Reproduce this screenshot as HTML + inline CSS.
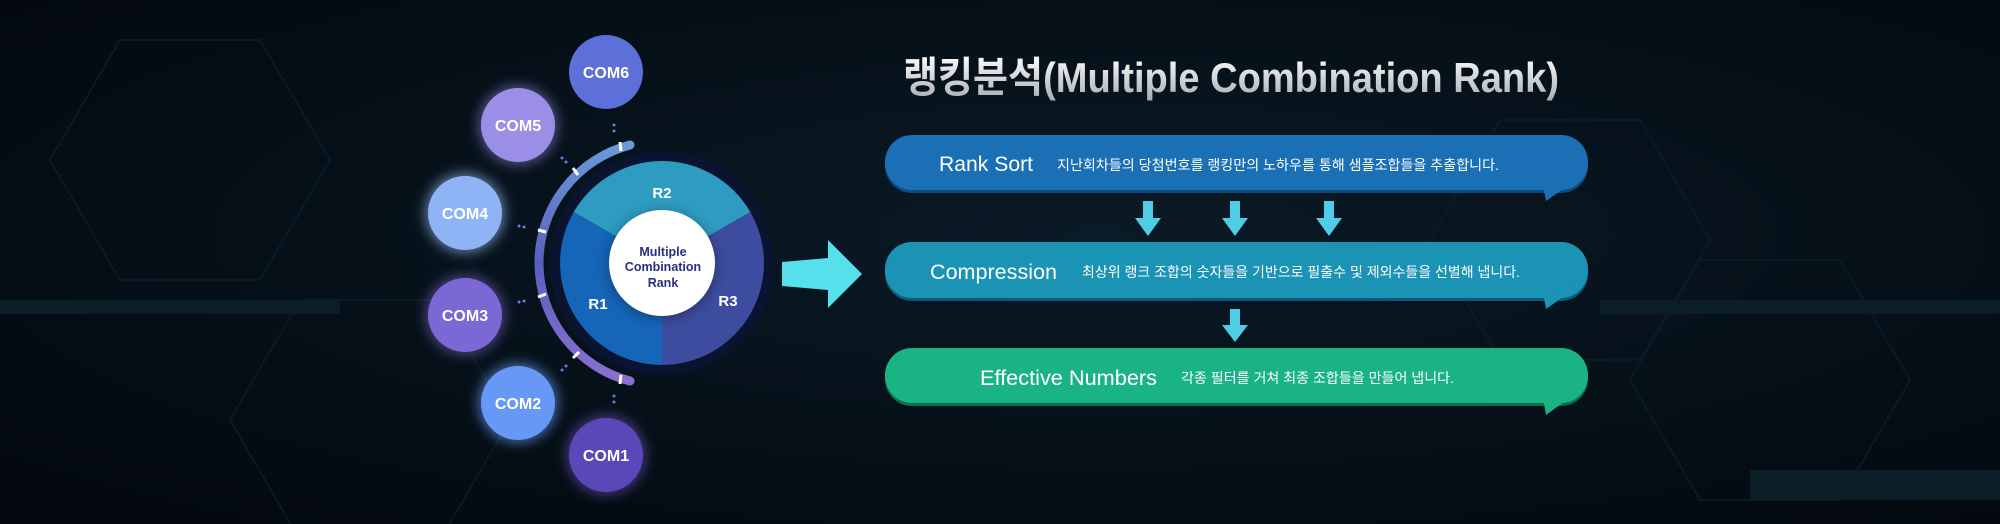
<!DOCTYPE html>
<html><head><meta charset="utf-8"><style>
html,body{margin:0;padding:0;}
body{width:2000px;height:524px;overflow:hidden;background:#040c14;font-family:"Liberation Sans","Noto Sans CJK KR",sans-serif;}
svg{position:absolute;left:0;top:0;}
</style></head><body>
<svg width="2000" height="524" viewBox="0 0 2000 524" xmlns="http://www.w3.org/2000/svg">
<defs>
<radialGradient id="bg" cx="0.55" cy="0.45" r="0.7">
<stop offset="0" stop-color="#0a1a26"/><stop offset="1" stop-color="#03090f"/>
</radialGradient>
<linearGradient id="arc" x1="0" y1="0" x2="0" y2="1">
<stop offset="0" stop-color="#6a9ad8"/><stop offset="0.5" stop-color="#5a5fbf"/><stop offset="1" stop-color="#8a6fd0"/>
</linearGradient>
<linearGradient id="tt" x1="0" y1="0" x2="0" y2="1">
<stop offset="0" stop-color="#ffffff"/><stop offset="1" stop-color="#a8adb2"/>
</linearGradient>
<filter id="glow" x="-50%" y="-50%" width="200%" height="200%"><feGaussianBlur stdDeviation="6"/></filter>
</defs>
<rect width="2000" height="524" fill="url(#bg)"/>
<g stroke="#0d1f29" stroke-width="2" fill="none" opacity="0.7">
<polygon points="120,40 260,40 330,160 260,280 120,280 50,160"/>
<polygon points="1500,120 1640,120 1710,240 1640,360 1500,360 1430,240"/>
<polygon points="1700,260 1840,260 1910,380 1840,500 1700,500 1630,380"/>
<polygon points="300,300 440,300 510,420 440,540 300,540 230,420"/>
</g>
<g fill="#0b1d26">
<rect x="0" y="300" width="340" height="14"/>
<rect x="1600" y="300" width="400" height="14"/>
<rect x="1750" y="470" width="250" height="30"/>
</g>
<!-- arc -->
<circle cx="662" cy="263" r="112" fill="#0a1430"/>
<path d="M 630 145 A 122 122 0 0 0 630 381" stroke="url(#arc)" stroke-width="9" fill="none" stroke-linecap="round"/>
<g stroke="#fff" stroke-width="3">
<line x1="620" y1="142" x2="621" y2="151"/><line x1="573" y1="168" x2="578" y2="175"/>
<line x1="538" y1="230" x2="546" y2="232"/><line x1="538" y1="297" x2="546" y2="294"/>
<line x1="573" y1="358" x2="579" y2="352"/><line x1="620" y1="384" x2="621" y2="375"/>
</g>
<!-- pie -->
<path d="M662 263 L573.7 212 A102 102 0 0 1 750.3 212 Z" fill="#2e9cc0"/>
<path d="M662 263 L750.3 212 A102 102 0 0 1 662 365 Z" fill="#3d4c9e"/>
<path d="M662 263 L662 365 A102 102 0 0 1 573.7 212 Z" fill="#1565b8"/>
<circle cx="662" cy="265" r="54" fill="#000" opacity="0.3" filter="url(#glow)"/>
<circle cx="662" cy="263" r="53" fill="#fff"/>
<g font-weight="bold" fill="#fff" font-size="15" text-anchor="middle">
<text x="662" y="198">R2</text><text x="728" y="306">R3</text><text x="598" y="309">R1</text>
</g>
<g fill="#2a2f80" font-size="12.5" font-weight="bold" text-anchor="middle">
<text x="663" y="256">Multiple</text><text x="663" y="271">Combination</text><text x="663" y="287">Rank</text>
</g>
<!-- COM circles -->
<g>
<circle cx="518" cy="125" r="40" fill="#9a8ee8" opacity="0.5" filter="url(#glow)"/>
<circle cx="465" cy="213" r="40" fill="#9ac0ff" opacity="0.6" filter="url(#glow)"/>
<circle cx="465" cy="315" r="40" fill="#8a70e0" opacity="0.5" filter="url(#glow)"/>
<circle cx="518" cy="403" r="40" fill="#6aa0ff" opacity="0.6" filter="url(#glow)"/>
<circle cx="606" cy="455" r="40" fill="#7a60e0" opacity="0.5" filter="url(#glow)"/>
<circle cx="606" cy="72" r="37" fill="#5d6fd8"/>
<circle cx="518" cy="125" r="37" fill="#9a8ee6"/>
<circle cx="465" cy="213" r="37" fill="#8fb4f6"/>
<circle cx="465" cy="315" r="37" fill="#7c68d4"/>
<circle cx="518" cy="403" r="37" fill="#6798f5"/>
<circle cx="606" cy="455" r="37" fill="#5a48b8"/>
</g>
<g fill="#fff" font-size="16" font-weight="bold" text-anchor="middle">
<text x="606" y="78">COM6</text><text x="518" y="131">COM5</text><text x="465" y="219">COM4</text>
<text x="465" y="321">COM3</text><text x="518" y="409">COM2</text><text x="606" y="461">COM1</text>
</g>
<g fill="#6a7ae0">
<circle cx="614" cy="125" r="1.5"/><circle cx="614" cy="131" r="1.5"/>
<circle cx="562" cy="158" r="1.5"/><circle cx="566" cy="162" r="1.5"/>
<circle cx="519" cy="226" r="1.5"/><circle cx="524" cy="227" r="1.5"/>
<circle cx="519" cy="302" r="1.5"/><circle cx="524" cy="301" r="1.5"/>
<circle cx="562" cy="370" r="1.5"/><circle cx="566" cy="366" r="1.5"/>
<circle cx="614" cy="396" r="1.5"/><circle cx="614" cy="402" r="1.5"/>
</g>
<!-- big arrow -->
<polygon points="782,262 828,258 828,240 862,274 828,308 828,290 782,286" fill="#55e0ec"/>
<!-- title -->
<text x="903" y="92" font-size="42" font-weight="bold" fill="url(#tt)" textLength="656" lengthAdjust="spacingAndGlyphs">랭킹분석(Multiple Combination Rank)</text>
<!-- boxes -->
<g>
<rect x="885" y="138" width="703" height="55" rx="27" fill="#0f4a80"/>
<rect x="885" y="135" width="703" height="55" rx="27" fill="#1a6fb5"/>
<polygon points="1543,185 1582,176 1546,201" fill="#1a6fb5"/>
<rect x="885" y="245" width="703" height="56" rx="27" fill="#0f5a78"/>
<rect x="885" y="242" width="703" height="56" rx="27" fill="#1b93b5"/>
<polygon points="1543,293 1582,284 1546,309" fill="#1b93b5"/>
<rect x="885" y="351" width="703" height="55" rx="27" fill="#0e7050"/>
<rect x="885" y="348" width="703" height="55" rx="27" fill="#1ab384"/>
<polygon points="1543,398 1582,389 1546,415" fill="#1ab384"/>
</g>
<g fill="#4fcde6">
<polygon points="1143,201 1153,201 1153,218 1161,218 1148,236 1135,218 1143,218"/>
<polygon points="1230,201 1240,201 1240,218 1248,218 1235,236 1222,218 1230,218"/>
<polygon points="1324,201 1334,201 1334,218 1342,218 1329,236 1316,218 1324,218"/>
<polygon points="1230,309 1240,309 1240,325 1248,325 1235,342 1222,325 1230,325"/>
</g>
<g fill="#fff">
<text x="939" y="171" font-size="21" textLength="94" lengthAdjust="spacingAndGlyphs">Rank Sort</text>
<text x="1057" y="170" font-size="14" textLength="442" lengthAdjust="spacingAndGlyphs">지난회차들의 당첨번호를 랭킹만의 노하우를 통해 샘플조합들을 추출합니다.</text>
<text x="930" y="279" font-size="21" textLength="127" lengthAdjust="spacingAndGlyphs">Compression</text>
<text x="1082" y="277" font-size="14" textLength="438" lengthAdjust="spacingAndGlyphs">최상위 랭크 조합의 숫자들을 기반으로 필출수 및 제외수들을 선별해 냅니다.</text>
<text x="980" y="385" font-size="21" textLength="177" lengthAdjust="spacingAndGlyphs">Effective Numbers</text>
<text x="1181" y="383" font-size="14" textLength="273" lengthAdjust="spacingAndGlyphs">각종 필터를 거쳐 최종 조합들을 만들어 냅니다.</text>
</g>
</svg>
</body></html>
